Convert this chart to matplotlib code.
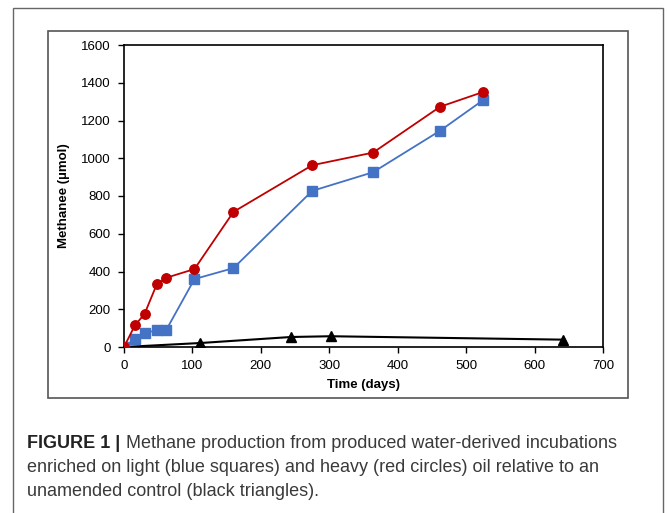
import matplotlib.pyplot as plt
from matplotlib.patches import Rectangle

# days / methane (umol)
heavy_days = [0, 16, 30, 48, 62, 103, 160, 275, 364, 462, 524]
heavy_ch4 = [0, 115, 175, 333, 367, 413, 716, 963, 1030, 1273, 1350]

light_days = [0, 16, 30, 48, 62, 103, 160, 275, 364, 462, 524]
light_ch4 = [0, 41, 72, 90, 92, 360, 418, 827, 926, 1146, 1306]

control_days = [0, 111, 244, 302, 641]
control_ch4 = [0, 21, 53, 57, 39]

xticks = [0, 100, 200, 300, 400, 500, 600, 700]
yticks = [0, 200, 400, 600, 800, 1000, 1200, 1400, 1600]

tick_font = ['Liberation Sans Narrow', 'Liberation Sans', 'DejaVu Sans']
plt.rcParams['font.family'] = tick_font

fig = plt.figure(figsize=(6.67, 5.13), dpi=100)
W, H = 667, 513

# outer caption frame and inner image frame
fig.patches.append(Rectangle((13 / W, -0.01), (663 - 13) / W, 1 - 8 / H + 0.01,
                             transform=fig.transFigure, fill=False,
                             edgecolor='#666666', linewidth=1.0))
fig.patches.append(Rectangle((48 / W, 1 - 398 / H), (628 - 48) / W, (398 - 31) / H,
                             transform=fig.transFigure, fill=False,
                             edgecolor='#555555', linewidth=1.2))

ax = fig.add_axes([124 / W, 1 - 347 / H, (603 - 124) / W, (347 - 45) / H])

ax.plot(control_days, control_ch4, color='black', marker='^', markersize=6.5,
        linewidth=1.5, zorder=2)
ax.plot(light_days, light_ch4, color='#4472C4', marker='s', markersize=6.5,
        linewidth=1.3, zorder=3)
ax.plot(heavy_days, heavy_ch4, color='#C00000', marker='o', markersize=6.8,
        linewidth=1.3, zorder=4)

ax.set_xlim(0, 700)
ax.set_ylim(0, 1600)
ax.set_xticks(xticks)
ax.set_yticks(yticks)
ax.tick_params(direction='out', length=4, width=1, labelsize=9.5, pad=5.5)
for s in ax.spines.values():
    s.set_linewidth(1.2)

ax.set_xlabel('Time (days)', fontsize=9.5, fontweight='bold', labelpad=5)
ax.set_ylabel('Methanee (\u00b5mol)', fontsize=9.5, fontweight='bold', labelpad=8)

cap_font = ['Liberation Sans', 'DejaVu Sans']
fs = 13
fig.text(27 / W, 1 - 448 / H, 'FIGURE 1 |', fontsize=fs, fontweight='bold',
         family=cap_font, va='baseline', color='#222222')
fig.text(126 / W, 1 - 448 / H,
         'Methane production from produced water-derived incubations',
         fontsize=fs, family=cap_font, va='baseline', color='#3a3a3a')
fig.text(27 / W, 1 - 472 / H,
         'enriched on light (blue squares) and heavy (red circles) oil relative to an',
         fontsize=fs, family=cap_font, va='baseline', color='#3a3a3a')
fig.text(27 / W, 1 - 496 / H, 'unamended control (black triangles).',
         fontsize=fs, family=cap_font, va='baseline', color='#3a3a3a')

fig.savefig('out.png', dpi=100)
